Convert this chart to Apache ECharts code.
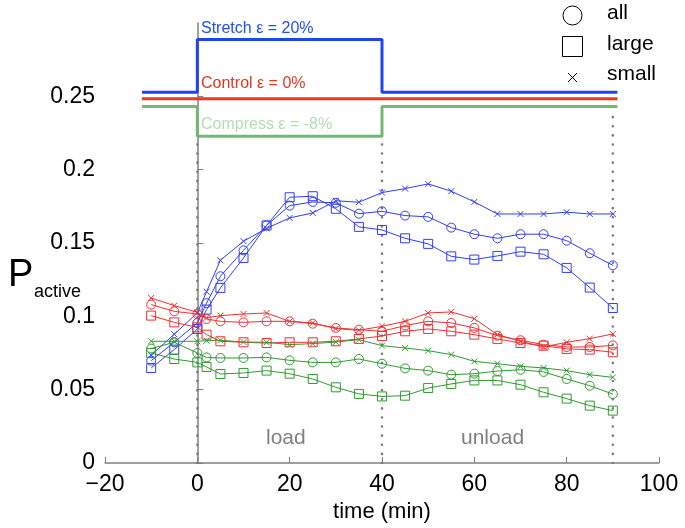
<!DOCTYPE html>
<html>
<head>
<meta charset="utf-8">
<script src="https://cdn.jsdelivr.net/npm/echarts@6/dist/echarts.min.js"></script>
<style>
  html, body { margin: 0; padding: 0; background: #fff; }
  #chart { width: 685px; height: 528px; }
</style>
</head>
<body>
<div id="chart"></div>
<script>
// time points (min), shared by all nine traces
var times = [-10, -5, 0, 2, 5, 10, 15, 20, 25, 30, 35, 40, 45, 50, 55, 60, 65, 70, 75, 80, 85, 90];

// stretch (blue)
var stretchAll   = [0.0698, 0.0823, 0.0955, 0.109, 0.1273, 0.145, 0.162, 0.1755, 0.178, 0.1774, 0.170, 0.1716, 0.1687, 0.1678, 0.1605, 0.156, 0.1532, 0.156, 0.156, 0.1516, 0.143, 0.1348];
var stretchLarge = [0.0648, 0.0773, 0.0914, 0.1046, 0.1194, 0.1398, 0.162, 0.1812, 0.1819, 0.1733, 0.161, 0.1589, 0.1532, 0.1494, 0.1409, 0.1387, 0.1412, 0.1441, 0.1423, 0.133, 0.1196, 0.1057];
var stretchSmall = [0.0735, 0.0878, 0.1023, 0.1168, 0.1382, 0.1512, 0.160, 0.1671, 0.1705, 0.1788, 0.1778, 0.1844, 0.1871, 0.1903, 0.1853, 0.178, 0.1698, 0.1698, 0.1698, 0.171, 0.1698, 0.1698];

// control (red)
var controlAll   = [0.108, 0.1034, 0.1016, 0.0982, 0.0966, 0.0959, 0.0966, 0.0966, 0.095, 0.0921, 0.0909, 0.0898, 0.0937, 0.0966, 0.0955, 0.0921, 0.0868, 0.0837, 0.0807, 0.0791, 0.0791, 0.0802];
var controlLarge = [0.1005, 0.0959, 0.0925, 0.0875, 0.083, 0.0823, 0.0818, 0.0823, 0.0823, 0.083, 0.0846, 0.0866, 0.0898, 0.0914, 0.0898, 0.0875, 0.0846, 0.0818, 0.08, 0.0778, 0.0773, 0.0755];
var controlSmall = [0.1125, 0.1073, 0.1027, 0.099, 0.1005, 0.1016, 0.1023, 0.0966, 0.0955, 0.0916, 0.0905, 0.0932, 0.0966, 0.1023, 0.103, 0.0984, 0.0875, 0.083, 0.0791, 0.0823, 0.0848, 0.088];

// compress (green)
var compressAll   = [0.078, 0.0823, 0.075, 0.072, 0.0716, 0.0716, 0.072, 0.070, 0.0686, 0.0686, 0.0709, 0.0677, 0.0645, 0.063, 0.0602, 0.0609, 0.0627, 0.0636, 0.0621, 0.0573, 0.0527, 0.047];
var compressLarge = [0.075, 0.0709, 0.0686, 0.0655, 0.0607, 0.0614, 0.063, 0.0609, 0.0573, 0.0516, 0.0471, 0.0454, 0.0459, 0.0511, 0.0539, 0.0563, 0.0563, 0.0534, 0.0482, 0.0439, 0.0391, 0.0357];
var compressSmall = [0.083, 0.083, 0.083, 0.0834, 0.0837, 0.0825, 0.0823, 0.0807, 0.0814, 0.0825, 0.0841, 0.080, 0.0784, 0.0766, 0.0739, 0.0693, 0.0677, 0.0659, 0.0648, 0.063, 0.0602, 0.0584];

// strain protocol traces drawn at the top
var stimTimes    = [-12, 0, 0, 40, 40, 91];
var stimStretch  = [0.2528, 0.2528, 0.2888, 0.2888, 0.2528, 0.2528];
var stimControl  = [0.2484, 0.2484, 0.2484, 0.2484, 0.2484, 0.2484];
var stimCompress = [0.2431, 0.2431, 0.2228, 0.2228, 0.2431, 0.2431];

// dotted markers at load / unload / end
var markTimes = [0, 40, 90];
var markTops  = [0.222, 0.222, 0.238];

var xTicks = [-20, 0, 20, 40, 60, 80, 100];
var yTicks = [0, 0.05, 0.1, 0.15, 0.2, 0.25];

var FONT = 'Liberation Sans, Arial, sans-serif';
var BLUE = '#2f3ff0', RED = '#ee3030', GREEN = '#2f9a2f';
var CROSS = 'path://M0,0L10,10M10,0L0,10';

function pairs(xs, ys) {
  return xs.map(function (x, i) { return [x, ys[i]]; });
}

function trace(vals, color, symbol, size) {
  return {
    type: 'line',
    data: pairs(times, vals),
    symbol: symbol,
    symbolSize: size,
    lineStyle: { color: color, width: 1 },
    itemStyle: { color: 'transparent', borderColor: color, borderWidth: 1 },
    emphasis: { disabled: true },
    animation: false,
    z: 3
  };
}

function stim(vals, color) {
  return {
    type: 'line',
    data: pairs(stimTimes, vals),
    symbol: 'none',
    lineStyle: { color: color, width: 3 },
    animation: false,
    z: 2
  };
}

var series = [];
markTimes.forEach(function (t, i) {
  series.push({
    type: 'line',
    data: [[t, 0], [t, markTops[i]]],
    symbol: 'none',
    lineStyle: { color: '#7a7a7a', width: 2.5, type: [0.1, 9], cap: 'round' },
    animation: false,
    z: 1
  });
});
series.push(stim(stimStretch, '#1f45ee'));
series.push(stim(stimControl, '#ec3a1e'));
series.push(stim(stimCompress, '#74b874'));

series.push(trace(stretchAll, BLUE, 'circle', 9));
series.push(trace(stretchLarge, BLUE, 'rect', 9));
series.push(trace(stretchSmall, BLUE, CROSS, 6));
series.push(trace(controlAll, RED, 'circle', 9));
series.push(trace(controlLarge, RED, 'rect', 9));
series.push(trace(controlSmall, RED, CROSS, 6));
series.push(trace(compressAll, GREEN, 'circle', 9));
series.push(trace(compressLarge, GREEN, 'rect', 9));
series.push(trace(compressSmall, GREEN, CROSS, 6));

var chart = echarts.init(document.getElementById('chart'), null, { renderer: 'canvas' });

var option = {
  animation: false,
  grid: { left: 105, right: 26, top: 23, bottom: 65 },
  xAxis: {
    type: 'value',
    min: -20, max: 100, interval: 20,
    axisLine: { lineStyle: { color: '#808080', width: 1.5 } },
    axisTick: { inside: true, length: 6, lineStyle: { color: '#808080' }, customValues: xTicks },
    axisLabel: { color: '#000', fontSize: 23, fontFamily: FONT, margin: 10, customValues: xTicks,
      formatter: function (v) { return v < 0 ? '\u2212' + Math.abs(v) : String(v); } },
    splitLine: { show: false },
    name: 'time (min)',
    nameLocation: 'middle',
    nameGap: 38,
    nameTextStyle: { color: '#000', fontSize: 22, fontFamily: FONT }
  },
  yAxis: {
    type: 'value',
    min: 0, max: 0.3, interval: 0.05,
    axisLine: { show: true, lineStyle: { color: '#808080', width: 1.5 } },
    axisTick: { show: true, inside: true, length: 6, lineStyle: { color: '#808080' }, customValues: yTicks },
    axisLabel: { color: '#000', fontSize: 23, fontFamily: FONT, margin: 10, customValues: yTicks,
      formatter: function (v) { return String(+v.toFixed(2)); } },
    splitLine: { show: false }
  },
  series: series,
  graphic: [
    { type: 'text', left: 8, top: 257, style: { text: 'P', fontSize: 38, fontFamily: FONT, fill: '#000' } },
    { type: 'text', left: 34, top: 283, style: { text: 'active', fontSize: 18, fontFamily: FONT, fill: '#000' } },

    { type: 'text', left: 201, top: 21, style: { text: 'Stretch \u03b5 = 20%', fontSize: 16, fontFamily: FONT, fill: '#2050ee' } },
    { type: 'text', left: 201, top: 76, style: { text: 'Control \u03b5 = 0%', fontSize: 16, fontFamily: FONT, fill: '#e8351f' } },
    { type: 'text', left: 201, top: 117, style: { text: 'Compress \u03b5 = -8%', fontSize: 16, fontFamily: FONT, fill: '#b7dab3' } },

    { type: 'text', left: 266, top: 428, style: { text: 'load', fontSize: 21, fontFamily: FONT, fill: '#808080' } },
    { type: 'text', left: 461, top: 428, style: { text: 'unload', fontSize: 21, fontFamily: FONT, fill: '#808080' } },

    { type: 'circle', shape: { cx: 572.5, cy: 15.5, r: 9.5 }, style: { fill: 'none', stroke: '#000', lineWidth: 1 } },
    { type: 'rect', shape: { x: 562.5, y: 36.5, width: 20, height: 20 }, style: { fill: 'none', stroke: '#000', lineWidth: 1 } },
    { type: 'line', shape: { x1: 568, y1: 73, x2: 577, y2: 82 }, style: { stroke: '#000', lineWidth: 1 } },
    { type: 'line', shape: { x1: 577, y1: 73, x2: 568, y2: 82 }, style: { stroke: '#000', lineWidth: 1 } },
    { type: 'text', left: 607, top: 3, style: { text: 'all', fontSize: 21, fontFamily: FONT, fill: '#000' } },
    { type: 'text', left: 607, top: 34, style: { text: 'large', fontSize: 21, fontFamily: FONT, fill: '#000' } },
    { type: 'text', left: 607, top: 64, style: { text: 'small', fontSize: 21, fontFamily: FONT, fill: '#000' } }
  ]
};

chart.setOption(option);
window.addEventListener('resize', chart.resize);
</script>
</body>
</html>
